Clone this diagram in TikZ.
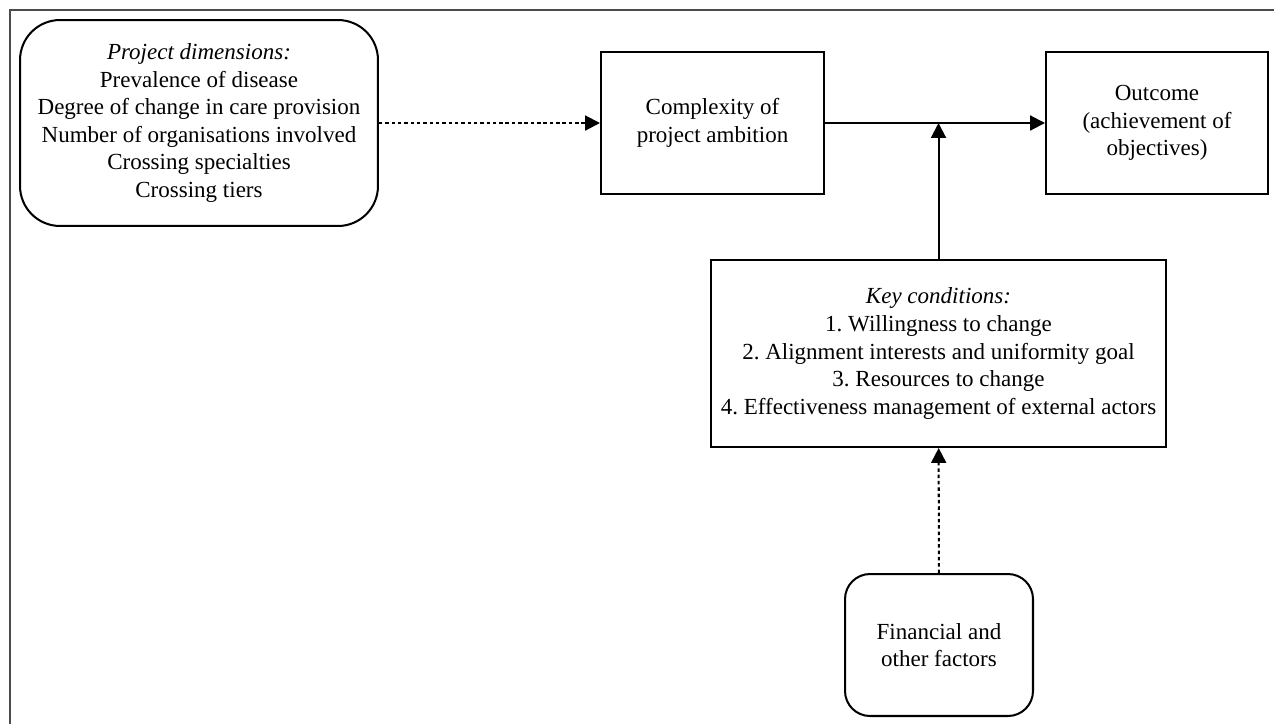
\documentclass[tikz,border=0pt]{standalone}
\usepackage{fontspec}
\setmainfont{Liberation Serif}
\usetikzlibrary{arrows.meta}
\frenchspacing

\tikzset{
  box/.style={draw, line width=1.15pt, align=center, inner sep=2pt,
    font=\fontsize{13.1}{15.7}\selectfont},
  roundbox/.style={box, rounded corners=#1},
  link/.style={line width=1.15pt, -{Triangle[length=8.5pt,width=8.5pt]}},
  dotlink/.style={link, dash pattern=on 2pt off 1.6pt}
}

\begin{document}
\begin{tikzpicture}[x=0.02cm,y=-0.02cm]
\useasboundingbox (0,0) rectangle (1274,724);
% frame
\draw[line width=0.9pt, black!70] (10,724) -- (10,10) -- (1274,10);

% boxes
\node[roundbox=0.8cm, minimum width=7.16cm, minimum height=4.12cm] (dims) at (199,123)
  {\textit{Project dimensions:}\\Prevalence of disease\\Degree of change in care provision\\Number of organisations involved\\Crossing specialties\\Crossing tiers};
\node[box, minimum width=4.46cm, minimum height=2.84cm] (cplx) at (712.5,123)
  {Complexity of\\project ambition};
\node[box, minimum width=4.44cm, minimum height=2.84cm] (outc) at (1157,123)
  {Outcome\\(achievement of\\objectives)};
\node[box, minimum width=9.1cm, minimum height=3.74cm] (keyc) at (938.5,353.5)
  {\textit{Key conditions:}\\1. Willingness to change\\2. Alignment interests and uniformity goal\\3. Resources to change\\4. Effectiveness management of external actors};
\node[roundbox=0.5cm, minimum width=3.76cm, minimum height=2.84cm] (fin) at (939,645)
  {Financial and\\other factors};

% connectors
\coordinate (join) at (keyc.north |- cplx.east);
\draw[dotlink] (dims) -- (cplx);
\draw[link] (cplx) -- (outc);
\draw[link] (keyc) -- (join);
\draw[dotlink] (fin) -- (keyc);
\end{tikzpicture}
\end{document}
